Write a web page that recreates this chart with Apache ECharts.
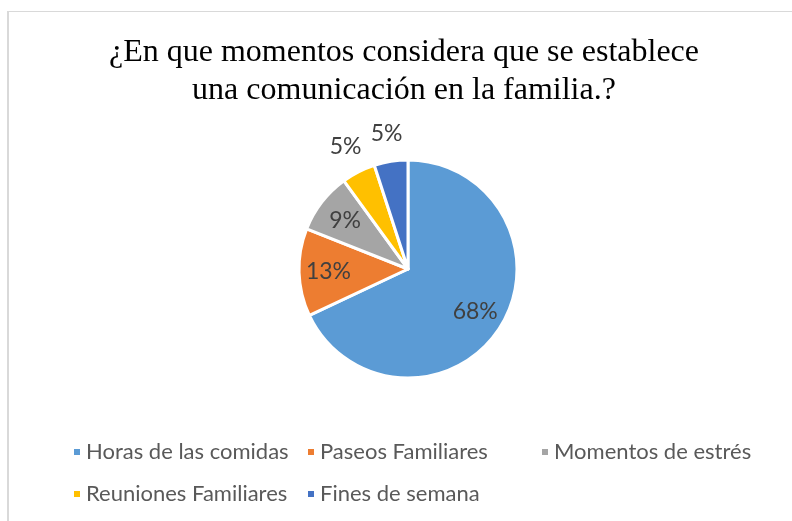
<!DOCTYPE html>
<html>
<head>
<meta charset="utf-8">
<script src="https://cdn.jsdelivr.net/npm/echarts@6/dist/echarts.min.js"></script>
<style>
  html, body { margin: 0; padding: 0; background: #fff; }
  #chartdiv { width: 792px; height: 521px; }
</style>
</head>
<body>
<div id="chartdiv"></div>
<script>
// chart data
var categories = ['Horas de las comidas', 'Paseos Familiares', 'Momentos de estrés', 'Reuniones Familiares', 'Fines de semana'];
var percentValues = [68, 13, 9, 5, 5];
var sliceColors = ['#5B9BD5', '#ED7D31', '#A5A5A5', '#FFC000', '#4472C4'];

var pieCenter = [408, 269];
var pieRadius = 109;

// mid angle of every slice (clockwise from 12 o'clock), used to place the labels like Excel does
var total = percentValues.reduce(function(a, b) { return a + b; }, 0);
var midAngles = [];
var acc = 0;
percentValues.forEach(function(v) {
    midAngles.push((acc + v / 2) / total * Math.PI * 2);
    acc += v;
});

var pieData = categories.map(function(name, i) {
    return { name: name, value: percentValues[i], itemStyle: { color: sliceColors[i] } };
});

var options = {
    animation: false,
    backgroundColor: '#fff',
    title: {
        text: '¿En que momentos considera que se establece\nuna comunicación en la familia.?',
        left: 404,
        top: 34,
        padding: 0,
        textAlign: 'center',
        textStyle: {
            fontFamily: 'Liberation Serif',
            fontWeight: 'normal',
            fontSize: 32,
            lineHeight: 38,
            color: '#000'
        }
    },
    legend: {
        data: categories,
        orient: 'horizontal',
        left: 72,
        top: 437,
        width: 710,
        padding: 0,
        icon: 'rect',
        itemWidth: 8,
        itemHeight: 8,
        itemGap: 12,
        textStyle: {
            fontFamily: 'Lato',
            fontSize: 22,
            lineHeight: 30,
            width: 208,
            color: '#595959'
        }
    },
    graphic: [
        { type: 'line', shape: { x1: 8, y1: 11, x2: 8, y2: 521 }, style: { stroke: '#d9d9d9', lineWidth: 2 } },
        { type: 'line', shape: { x1: 8, y1: 11.5, x2: 792, y2: 11.5 }, style: { stroke: '#d9d9d9', lineWidth: 1 } }
    ],
    series: [
        {
            name: 'Momentos',
            type: 'pie',
            center: pieCenter,
            radius: pieRadius,
            startAngle: 90,
            clockwise: true,
            avoidLabelOverlap: false,
            itemStyle: {
                borderColor: '#fff',
                borderWidth: 3
            },
            label: {
                show: true,
                position: 'inside',
                formatter: '{c}%',
                fontFamily: 'Lato',
                fontSize: 23,
                color: '#404040'
            },
            labelLine: { show: false },
            labelLayout: function(p) {
                var i = p.dataIndex;
                var f = percentValues[i] >= 9 ? 0.73 : 1.26;
                var a = midAngles[i];
                return {
                    x: pieCenter[0] + Math.sin(a) * pieRadius * f,
                    y: pieCenter[1] - Math.cos(a) * pieRadius * f,
                    align: 'center',
                    verticalAlign: 'middle'
                };
            },
            emphasis: { disabled: true },
            data: pieData
        }
    ]
};

var chartDom = document.getElementById('chartdiv');
var plot = echarts.init(chartDom);
options && plot.setOption(options);
</script>
</body>
</html>
